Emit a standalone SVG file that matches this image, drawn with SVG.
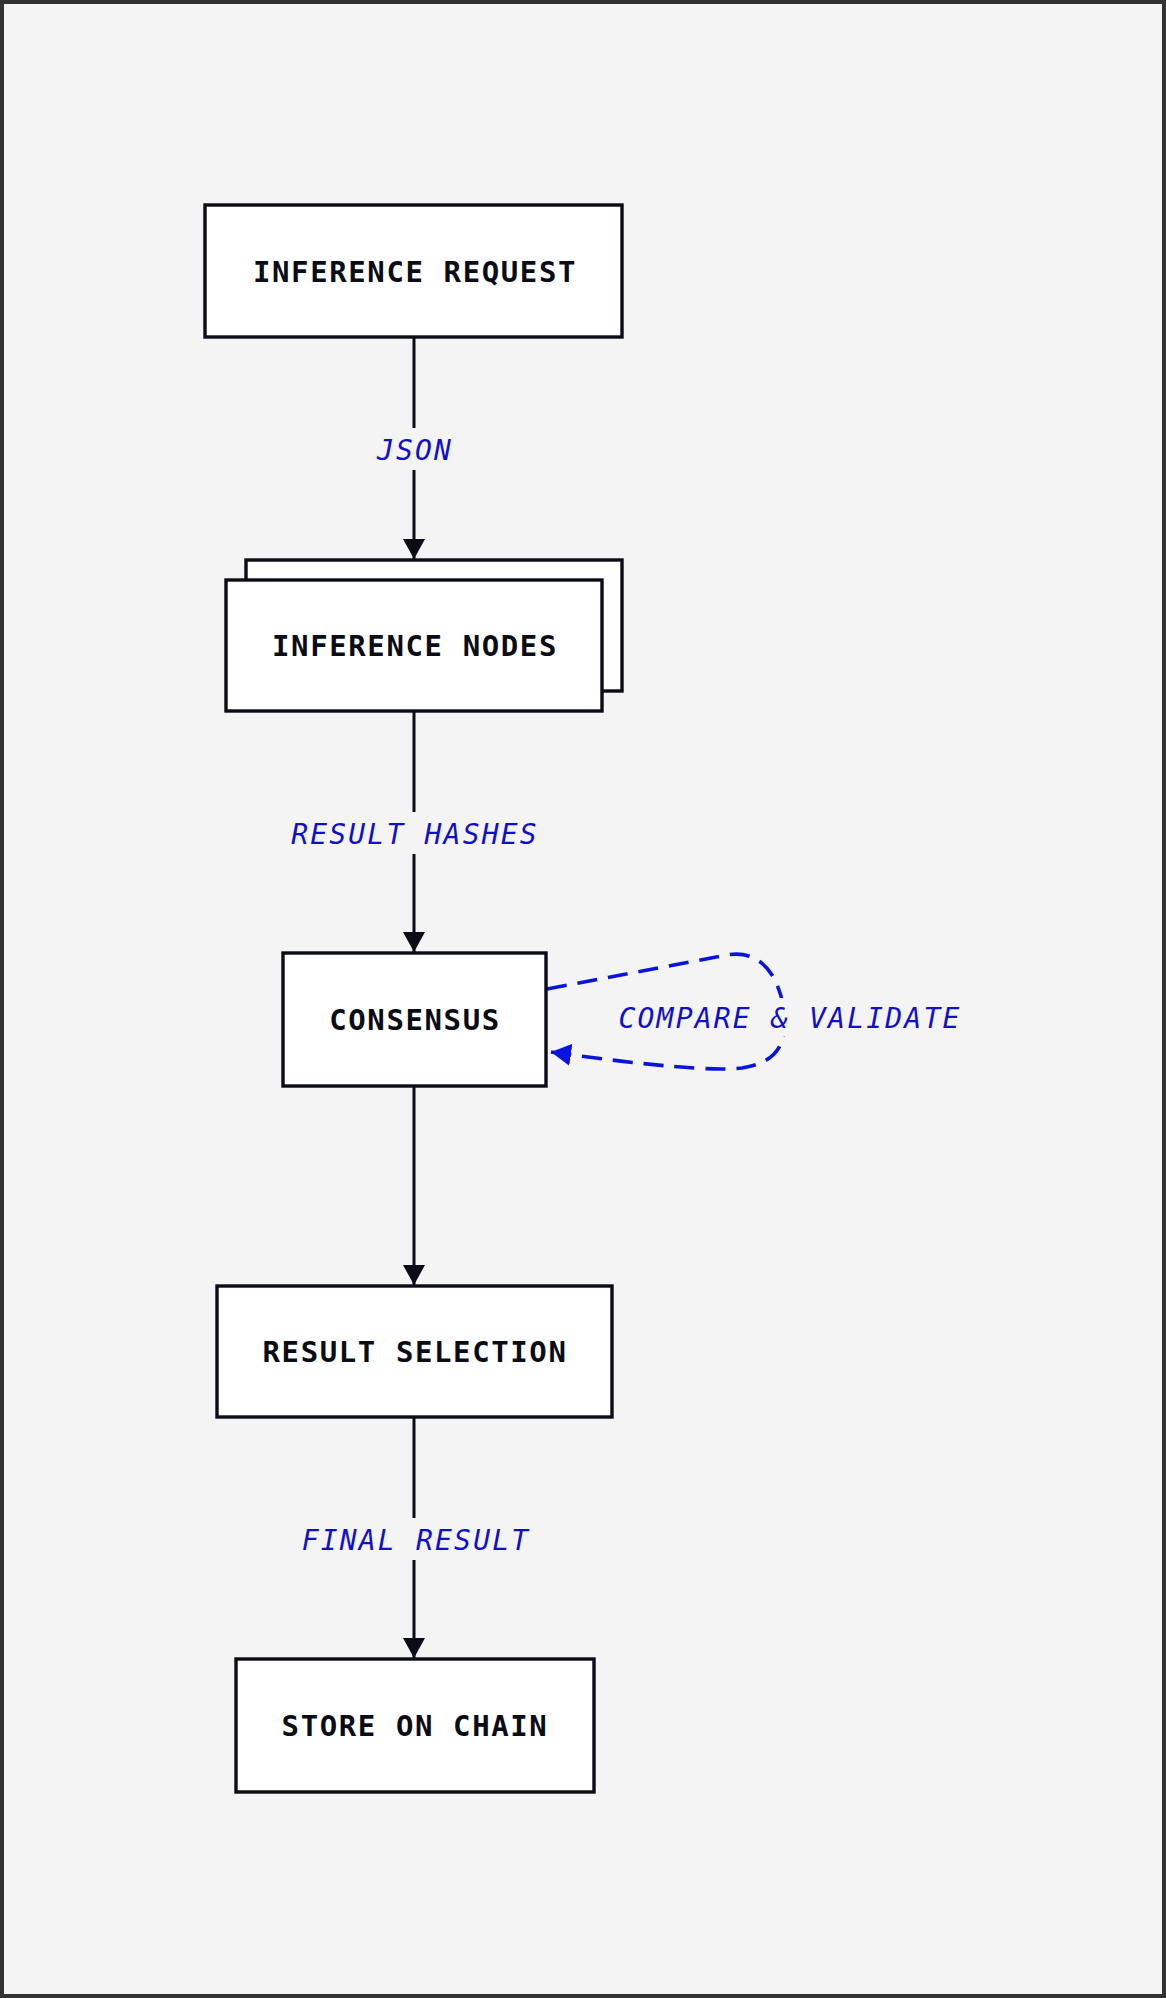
<svg xmlns="http://www.w3.org/2000/svg" width="1166" height="1998" viewBox="0 0 1166 1998">
<style>
.node rect{fill:#ffffff;stroke:#0a0c16;stroke-width:3.4}
.node text{font-family:"DejaVu Sans Mono","Liberation Mono",monospace;font-weight:bold;font-size:29px;letter-spacing:1.6px;fill:#0a0c16;text-anchor:middle}
.edge{fill:none;stroke:#0a0c16;stroke-width:3}
.loop{fill:none;stroke:#0a14e0;stroke-width:3.6;stroke-dasharray:20 11}
.lbl text{font-family:"DejaVu Sans Mono","Liberation Mono",monospace;font-style:italic;font-size:28px;letter-spacing:2.2px;fill:#1010c8;text-anchor:middle}
.lbl rect{fill:#f4f4f4}
</style>
<defs>
<marker id="ah" viewBox="0 0 20 22" refX="20" refY="11" markerWidth="20" markerHeight="22" markerUnits="userSpaceOnUse" orient="auto"><path d="M0,0 L20,11 L0,22 z" fill="#0a0c16"/></marker>
<marker id="ahb" viewBox="0 0 20 22" refX="20" refY="11" markerWidth="20" markerHeight="22" markerUnits="userSpaceOnUse" orient="auto"><path d="M0,0 L20,11 L0,22 z" fill="#0a14e0"/></marker>
</defs>
<rect x="2" y="2" width="1162" height="1994" fill="#f4f4f4" stroke="#333333" stroke-width="4"/>

<g id="connectors">
<path class="edge" d="M414,338 L414,559" marker-end="url(#ah)"/>
<path class="edge" d="M414,711 L414,952" marker-end="url(#ah)"/>
<path class="edge" d="M414,1086 L414,1285" marker-end="url(#ah)"/>
<path class="edge" d="M414,1417 L414,1658" marker-end="url(#ah)"/>
<path class="loop" d="M547,989 L722,956 Q755,948 772,975 Q786,998 784,1030 Q782,1062 742,1068 Q700,1073 551,1052" marker-end="url(#ahb)"/>
<g class="lbl" id="lbl-json"><rect x="372" y="428" width="84" height="42"/><text x="415" y="460">JSON</text></g>
<g class="lbl" id="lbl-hashes"><rect x="286" y="812" width="256" height="42"/><text x="415" y="844">RESULT HASHES</text></g>
<g class="lbl" id="lbl-compare"><rect x="612" y="998" width="354" height="38"/><text x="790" y="1028">COMPARE &amp; VALIDATE</text></g>
<g class="lbl" id="lbl-final"><rect x="296" y="1518" width="238" height="42"/><text x="416" y="1550">FINAL RESULT</text></g>
</g>

<g id="node-request" class="node"><rect x="205" y="205" width="417" height="132"/><text x="415" y="282">INFERENCE REQUEST</text></g>
<g id="node-inference" class="node"><rect x="246" y="560" width="376" height="131"/><rect x="226" y="580" width="376" height="131"/><text x="415" y="656">INFERENCE NODES</text></g>
<g id="node-consensus" class="node"><rect x="283" y="953" width="263" height="133"/><text x="415" y="1030">CONSENSUS</text></g>
<g id="node-selection" class="node"><rect x="217" y="1286" width="395" height="131"/><text x="415" y="1362">RESULT SELECTION</text></g>
<g id="node-store" class="node"><rect x="236" y="1659" width="358" height="133"/><text x="415" y="1736">STORE ON CHAIN</text></g>
</svg>
